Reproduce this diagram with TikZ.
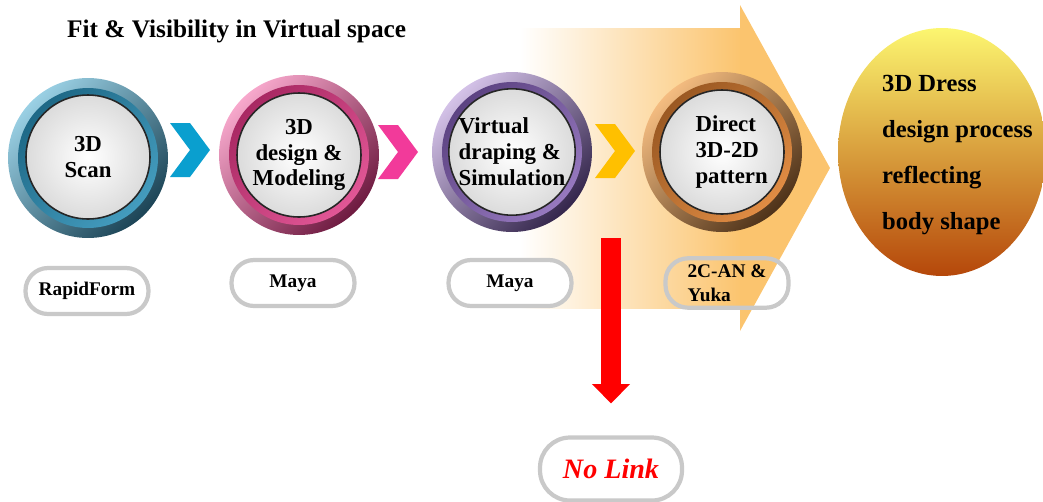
\documentclass[tikz,border=0pt]{standalone}
\usepackage{fontspec}
\setmainfont{Liberation Serif}
\usepackage{tikz}
\usetikzlibrary{arrows.meta,positioning,shapes.geometric}
\definecolor{arroworange}{HTML}{FBC46E}
\definecolor{blueL}{HTML}{9AD0E4}
\definecolor{blueM}{HTML}{1F86AE}
\definecolor{blueD}{HTML}{1C4456}
\definecolor{pinkL}{HTML}{F7A8CC}
\definecolor{pinkM}{HTML}{D8347F}
\definecolor{pinkD}{HTML}{6E1A40}
\definecolor{purpL}{HTML}{D4C2E8}
\definecolor{purpM}{HTML}{7D5AAE}
\definecolor{purpD}{HTML}{34264C}
\definecolor{orngL}{HTML}{F4BC80}
\definecolor{orngM}{HTML}{D9782A}
\definecolor{orngD}{HTML}{4E3219}
\definecolor{chevblue}{HTML}{0A9FCF}
\definecolor{chevpink}{HTML}{F23A9A}
\definecolor{chevgold}{HTML}{FFC000}
\definecolor{goaltop}{HTML}{FCF670}
\definecolor{goalmid}{HTML}{F0DA58}
\definecolor{goalbot}{HTML}{B5470A}
\tikzset{
        stepdisc/.style={circle, minimum size=2.48cm, inner sep=0pt,
            draw=black!85, line width=0.9pt, inner color=white, outer color=gray!28,
            font=\bfseries\fontsize{13}{14.7}\selectfont},
        toolbox/.style={rectangle, rounded corners=0.45cm, draw=gray!42, line width=2.4pt,
            fill=white, minimum width=2.46cm, minimum height=0.92cm,
            font=\bfseries\fontsize{11}{14}\selectfont},
        linkarrow/.style={draw=red, line width=11pt,
            -{Triangle[width=21pt, length=11pt]}},
    }

\begin{document}
\begin{tikzpicture}[x = 0.02cm, y = -0.02cm]
                \useasboundingbox (0,0) rectangle (1043,501);
                % big arrow behind the last steps
                \shade[left color=white, middle color=arroworange!9, right color=arroworange]
                    (520,28) rectangle (741,308);
                \fill[arroworange] (740,5) -- (830,168) -- (740,331) -- cycle;
                \node[anchor=west, font=\bfseries\fontsize{14.4}{16}\selectfont] (title) at (61,31)
                    {Fit \& Visibility in Virtual space};
                % rings
                \foreach \cx/\cy/\lt/\md/\dk in {88/158/blueL/blueM/blueD, 299/155/pinkL/pinkM/pinkD,
                                            512/152/purpL/purpM/purpD, 722/152/orngL/orngM/orngD}
                {
                    \shade[top color=\lt, middle color=\md, bottom color=\dk, shading angle=45] (\cx,\cy) circle (1.6cm);
                    \shade[top color=\md!55!\dk, middle color=\md, bottom color=\md!70!\lt, shading angle=45] (\cx,\cy) circle (1.4cm);
                }
                % chevrons
                \foreach \cx/\cy/\col in {170/123/chevblue, 378/125/chevpink, 595/124/chevgold}
                {
                    \fill[\col] (\cx,\cy) -- ++(20,0) -- ++(20,27) -- ++(-20,27) -- ++(-20,0) -- ++(20,-27) -- cycle;
                }
                \node[stepdisc, align=center] (scan) at (88,157) {3D\\Scan};
                \node[stepdisc, align=center] (model) at (299,155) {3D\\design \&\\Modeling};
                \node[stepdisc, align=left] (drape) at (512,152) {Virtual\\draping \&\\Simulation};
                \node[stepdisc, align=left] (pattern) at (722,152) {\hspace*{11pt}Direct\\\hspace*{11pt}3D-2D\\\hspace*{11pt}pattern};
                % tools
                \node[toolbox] (rapid) at (87,291) {RapidForm};
                \node[toolbox] (maya1) at (293,283) {Maya};
                \node[toolbox] (maya2) at (510,283) {Maya};
                \node[toolbox, fill=none, align=left] (yuka) at (727,283) {2C-AN \&\\Yuka};
                % goal
                \node[ellipse, minimum width=4.16cm, minimum height=4.96cm, inner sep=0pt,
                      top color=goaltop, middle color=goalmid, bottom color=goalbot] (goal) at (942,152) {};
                \node[anchor=west, align=left, font=\bfseries\fontsize{14}{26}\selectfont] (goaltext) at (876,155)
                    {3D Dress\\design process\\reflecting\\body shape};
                % no link
                \node[toolbox, minimum width=2.84cm, minimum height=1.26cm, rounded corners=0.6cm,
                      text=red, font=\bfseries\itshape\fontsize{16}{18}\selectfont] (nolink) at (611,469) {No Link};
                \coordinate (drop) at (611,238);
                \draw[linkarrow, shorten >=0.64cm] (drop) -- (nolink.north);
            \end{tikzpicture}
\end{document}
